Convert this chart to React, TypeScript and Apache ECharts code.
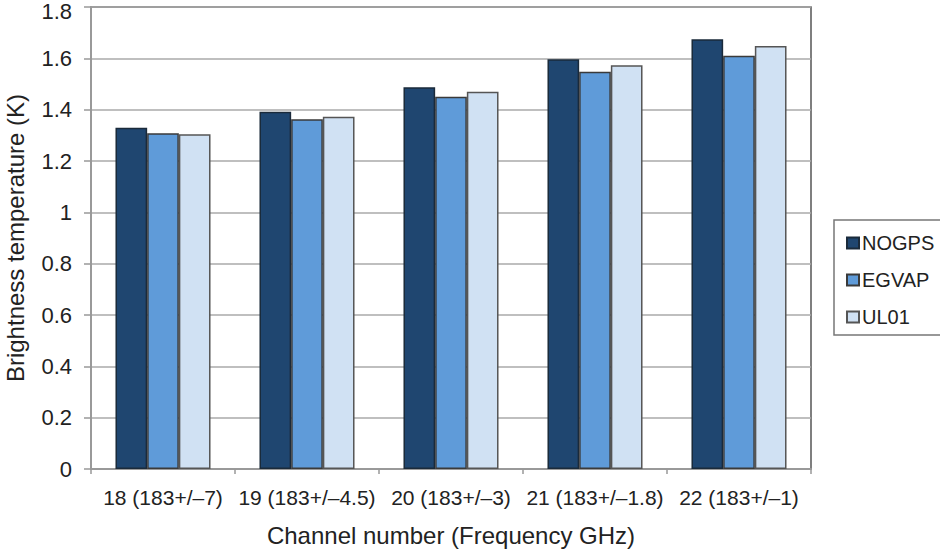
import React, { useEffect, useRef } from "react";
import * as echarts from "echarts";

const categories = [
  "18 (183+/\u20137)",
  "19 (183+/\u20134.5)",
  "20 (183+/\u20133)",
  "21 (183+/\u20131.8)",
  "22 (183+/\u20131)",
];
const nogps = [1.33, 1.392, 1.487, 1.596, 1.674];
const egvap = [1.308, 1.363, 1.45, 1.548, 1.61];
const ul01 = [1.304, 1.372, 1.47, 1.573, 1.648];
const yMax = 1.8;

const FONT = "Liberation Sans, Arial, Helvetica, sans-serif";

export default function App() {
  const ref = useRef<HTMLDivElement>(null);
  useEffect(() => {
    if (!ref.current) return;
    const chart = echarts.init(ref.current, null, { renderer: "svg" });
    const border = { borderColor: "#3a3a3a", borderWidth: 1.5 };
    chart.setOption({
      animation: false,
      backgroundColor: "#ffffff",
      textStyle: { fontFamily: FONT, color: "#222" },
      grid: {
        left: 91,
        top: 7,
        right: 129,
        bottom: 81,
        show: true,
        borderColor: "#555",
        borderWidth: 1.5,
        backgroundColor: "transparent",
        containLabel: false,
        outerBoundsMode: "none",
      },
      legend: {
        orient: "vertical",
        left: 834,
        top: 220,
        borderColor: "#777",
        borderWidth: 1.5,
        padding: [13, 40, 8, 12],
        itemGap: 17,
        itemWidth: 12,
        itemHeight: 11,
        icon: "rect",
        textStyle: { fontSize: 20, fontFamily: FONT, color: "#222", padding: [0, 0, 0, -2] },
        data: ["NOGPS", "EGVAP", "UL01"],
      },
      xAxis: {
        type: "category",
        data: categories,
        name: "Channel number (Frequency GHz)",
        nameLocation: "middle",
        nameGap: 54,
        nameTextStyle: { fontSize: 24, fontFamily: FONT, color: "#222" },
        axisLine: { lineStyle: { color: "#999", width: 2 } },
        axisTick: { show: true, length: 5, lineStyle: { color: "#999", width: 1.5 } },
        axisLabel: { fontSize: 21, fontFamily: FONT, color: "#222", margin: 18, interval: 0 },
      },
      yAxis: {
        type: "value",
        min: 0,
        max: yMax,
        interval: 0.2,
        name: "Brightness temperature (K)",
        nameLocation: "middle",
        nameGap: 64,
        nameRotate: 90,
        nameTextStyle: { fontSize: 24, fontFamily: FONT, color: "#222" },
        axisLine: { show: true, lineStyle: { color: "#999", width: 2 } },
        axisTick: { show: true, length: 7, lineStyle: { color: "#999", width: 1.5 } },
        axisLabel: {
          fontSize: 22,
          fontFamily: FONT,
          color: "#222",
          margin: 19,
          formatter: (v: number) => {
            const s = String(Math.round(v * 10) / 10);
            return Math.abs(v - yMax) < 1e-6 ? "{top|" + s + "}" : s;
          },
          rich: {
            top: { fontSize: 22, fontFamily: FONT, color: "#222", padding: [8, 0, 0, 0] },
          },
        },
        splitLine: { show: true, lineStyle: { color: "#aaa", width: 1.5 } },
      },
      series: [
        {
          name: "NOGPS",
          type: "bar",
          data: nogps,
          barGap: "0%",
          barCategoryGap: "34%",
          itemStyle: { color: "#1f4670", ...border, borderColor: "#1a2a3a" },
        },
        {
          name: "EGVAP",
          type: "bar",
          data: egvap,
          barGap: "0%",
          barCategoryGap: "34%",
          itemStyle: { color: "#5f9bd9", ...border },
        },
        {
          name: "UL01",
          type: "bar",
          data: ul01,
          barGap: "0%",
          barCategoryGap: "34%",
          itemStyle: { color: "#d0e1f3", ...border, borderColor: "#555" },
        },
      ],
    });
    return () => chart.dispose();
  }, []);
  return (
    <div
      ref={ref}
      style={{ position: "fixed", left: 0, top: 0, width: 940, height: 550, background: "#fff" }}
    />
  );
}
